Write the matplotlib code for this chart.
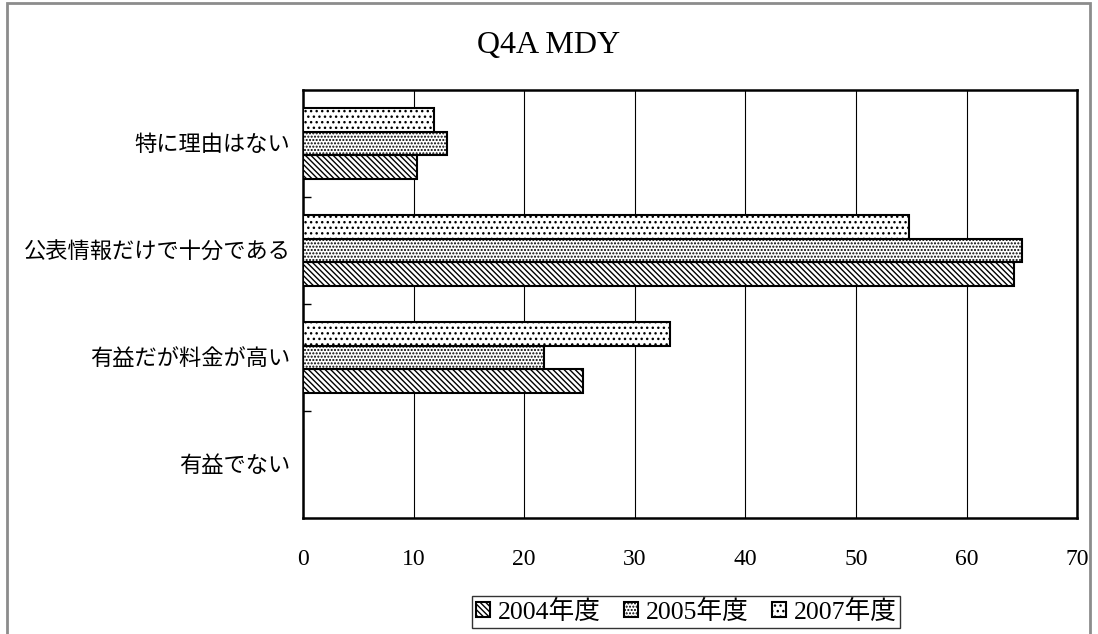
import matplotlib
matplotlib.use("Agg")
import matplotlib.pyplot as plt
from matplotlib.patches import Rectangle
import numpy as np

plt.rcParams['font.family'] = ['Liberation Serif', 'Noto Sans CJK JP']
plt.rcParams['hatch.linewidth'] = 1.0

# categories listed bottom to top
categories = ['有益でない', '有益だが料金が高い', '公表情報だけで十分である', '特に理由はない']
years = ['2004年度', '2005年度', '2007年度']
v2004 = [0, 25.3, 64.3, 10.3]
v2005 = [0, 21.8, 65.0, 13.0]
v2007 = [0, 33.2, 54.8, 11.8]
hatches = ['\\\\\\\\\\\\', '.....', '...']

fig = plt.figure(figsize=(10.98, 6.34), dpi=100)
ax = fig.add_axes([0.276, 0.183, 0.705, 0.675])

y = np.arange(len(categories))
h = 0.222
for i, (vals, hat) in enumerate(zip([v2004, v2005, v2007], hatches)):
    ax.barh(y + (i - 1) * h, vals, height=h, color='white', edgecolor='black',
            hatch=hat, linewidth=1.5, label=years[i], zorder=3)

ax.set_xlim(0, 70)
ax.set_ylim(-0.5, 3.5)
ax.set_xticks(range(0, 71, 10))
ax.xaxis.grid(True, color='black', linewidth=0.8, zorder=0)
ax.tick_params(axis='x', length=0, labelsize=17, pad=22)

ax.set_yticks(y)
ax.set_yticklabels(categories, fontsize=16)
ax.tick_params(axis='y', which='major', length=0, pad=9)
ax.set_yticks(np.arange(0.5, 3.5, 1), minor=True)
ax.tick_params(axis='y', which='minor', direction='in', length=6, width=1)

for s in ax.spines.values():
    s.set_linewidth(1.8)
    s.set_color('black')

fig.text(0.5, 0.929, 'Q4A MDY', ha='center', va='center', fontsize=23)

leg = fig.legend(loc='center', bbox_to_anchor=(0.625, 0.035), ncol=3,
                 fontsize=18.5, frameon=True, fancybox=False, edgecolor='black',
                 handlelength=0.55, handleheight=0.55, handletextpad=0.3,
                 columnspacing=0.9, borderpad=0.15)
leg.get_frame().set_linewidth(1.0)

# outer chart border
fig.patches.append(Rectangle((7 / 1098, -0.05), 1083 / 1098, 1.05 - 3 / 634,
                             transform=fig.transFigure, fill=False,
                             edgecolor='#8c8c8c', linewidth=2))

fig.savefig('out.png', dpi=100)
